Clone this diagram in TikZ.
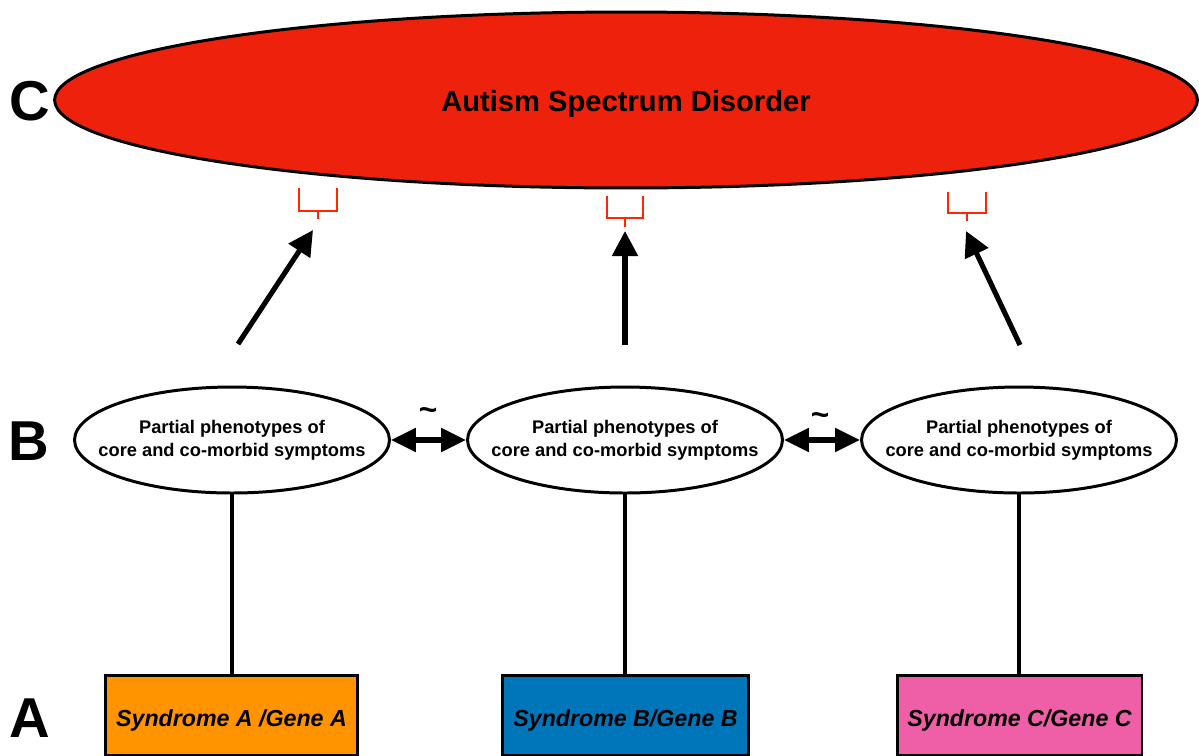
\documentclass[tikz,border=0pt]{standalone}
\usepackage{fontspec}
\setmainfont{Liberation Sans}
\usetikzlibrary{shapes.geometric,arrows.meta}
\definecolor{asdred}{HTML}{EE220C}
\definecolor{brred}{HTML}{FF2600}
\definecolor{boxA}{HTML}{FF9300}
\definecolor{boxB}{HTML}{0076BA}
\definecolor{boxC}{HTML}{EF5FA7}
\newcommand{\phenotext}{\makebox[0pt][c]{\begin{tabular}{@{}c@{}}Partial phenotypes of\\core and co-morbid symptoms\end{tabular}}}
\newcommand{\lowtext}[2]{\raisebox{#1}[0pt][0pt]{#2}}
\tikzset{
  pheno/.style={ellipse, draw=black, line width=1.7pt, fill=white, minimum width=6.3cm, minimum height=2.12cm, inner sep=0pt, font=\fontsize{10.4}{13}\selectfont\bfseries},
  synbox/.style={rectangle, draw=black, line width=1.7pt, minimum height=1.6cm, inner sep=0pt, font=\fontsize{13.2}{15}\selectfont\bfseries\itshape},
  letter/.style={font=\fontsize{32}{34}\selectfont\bfseries, inner sep=0pt},
  link/.style={line width=1.8pt, draw=black},
  bigarrow/.style={line width=2.9pt, -{Triangle[length=0.5cm,width=0.5cm]}},
  dblarrow/.style={line width=2.9pt, {Triangle[length=0.5cm,width=0.46cm]}-{Triangle[length=0.5cm,width=0.46cm]}},
  bracket/.style={draw=brred, line width=1pt},
  tildestyle/.style={font=\fontsize{18}{18}\selectfont\bfseries, inner sep=0pt}
}
\begin{document}
\begin{tikzpicture}[x=0.02cm,y=-0.02cm]
\useasboundingbox (0,0) rectangle (1199,755);
% top ellipse
\node[ellipse, draw=black, line width=1.7pt, fill=asdred, minimum width=22.86cm, minimum height=3.52cm, inner sep=0pt, font=\fontsize{16.6}{18}\selectfont\bfseries] (asd) at (626,100) {\lowtext{-0.23cm}{Autism Spectrum Disorder}};
% letters
\node[letter] (lc) at (30,101) {C};
\node[letter] (lb) at (29,441) {B};
\node[letter] (la) at (30,718) {A};
% phenotype ellipses
\node[pheno] (p1) at (232,440) {\phenotext};
\node[pheno] (p2) at (625,440) {\phenotext};
\node[pheno] (p3) at (1019,440) {\phenotext};
% boxes
\node[synbox, fill=boxA, minimum width=5.06cm] (sa) at (231.5,715) {\lowtext{-0.22cm}{Syndrome A /Gene A}};
\node[synbox, fill=boxB, minimum width=4.94cm] (sb) at (625.5,715) {\lowtext{-0.22cm}{Syndrome B/Gene B}};
\node[synbox, fill=boxC, minimum width=4.9cm] (sc) at (1019.5,715) {\lowtext{-0.22cm}{Syndrome C/Gene C}};
% links
\draw[link] (sa.north -| p1.south) -- (p1.south);
\draw[link] (sb.north -| p2.south) -- (p2.south);
\draw[link] (sc.north -| p3.south) -- (p3.south);
% double arrows
\draw[dblarrow] (p1.east) -- (p2.west);
\draw[dblarrow] (p2.east) -- (p3.west);
\node[tildestyle] (t1) at (428,414) {\char`\~};
\node[tildestyle] (t2) at (820,419) {\char`\~};
% brackets
\draw[bracket] (299,188) -- (299,211) -- (337,211) -- (337,188);
\draw[bracket] (318,211) -- (318,219);
\draw[bracket] (607,196) -- (607,218) -- (643,218) -- (643,196);
\draw[bracket] (625,218) -- (625,227);
\draw[bracket] (948,192) -- (948,213) -- (986,213) -- (986,192);
\draw[bracket] (967,213) -- (967,221);
% arrow ends
\coordinate (a1s) at (238,344);
\coordinate (a1e) at (313,230);
\coordinate (a2s) at (625,345);
\coordinate (a2e) at (625,231);
\coordinate (a3s) at (1020,345);
\coordinate (a3e) at (966,231);
\draw[bigarrow] (a1s) -- (a1e);
\draw[bigarrow] (a2s) -- (a2e);
\draw[bigarrow] (a3s) -- (a3e);
\end{tikzpicture}
\end{document}
